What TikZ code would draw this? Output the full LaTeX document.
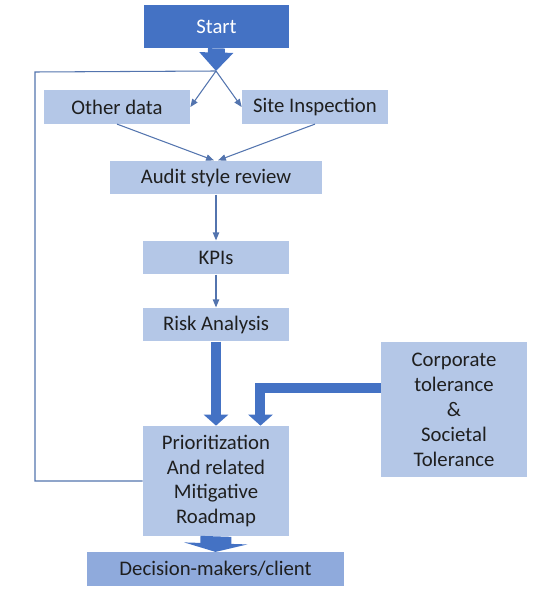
\documentclass[tikz,border=0pt]{standalone}
\usepackage{fontspec}
\setmainfont{Carlito}
\usetikzlibrary{positioning,arrows.meta,calc}
\definecolor{boxblue}{HTML}{B4C7E7}
\definecolor{startblue}{HTML}{4472C4}
\definecolor{endblue}{HTML}{8FAADC}
\definecolor{lineblue}{HTML}{5374AE}
\begin{document}
\begin{tikzpicture}[x=0.02cm,y=-0.02cm,>={Triangle[length=4.5pt,width=3.6pt]},
    box/.style={fill=boxblue,minimum width=2.92cm,minimum height=0.67cm,inner sep=0pt,
        font=\fontsize{11.8}{14.2}\selectfont,text=black!88,align=center},
    startbox/.style={box,fill=startblue,text=white,minimum height=0.86cm},
    thin/.style={->,draw=lineblue,line width=0.6pt},
    fat/.style={draw=startblue,line width=0.2cm,
        -{Triangle[width=0.48cm,length=0.22cm]}}]
    \useasboundingbox (0,0) rectangle (540,611);
    % boxes
    \node[startbox] (start) at (216.5,26.5) {Start};
    \node[box] (other) at (117,107) {Other data};
    \node[box] (site) at (315,107) {Site Inspection};
    \node[box,minimum width=4.24cm] (audit) at (216,177.5) {Audit style review};
    \node[box] (kpi) at (216,257.5) {KPIs};
    \node[box] (risk) at (216,324.5) {Risk Analysis};
    \node[box,minimum height=2.2cm] (prior) at (216,481) {Prioritization\\And related\\Mitigative\\Roadmap};
    \node[box,minimum height=2.7cm] (corp) at (454,409.5) {Corporate\\tolerance\\\&\\Societal\\Tolerance};
    \node[box,fill=endblue,minimum width=5.14cm] (dec) at (215.5,569) {Decision-makers/client};
    \coordinate (tip) at (216,71);
    \coordinate (loop) at (35,72);
    % block arrows
    \draw[fat,line width=0.34cm,-{Triangle[width=0.66cm,length=0.37cm]}] (start.south) -- (tip);
    \draw[fat] (risk.south) -- (prior.north);
    \draw[fat] ([yshift=0.43cm]corp.west) -| ([xshift=0.89cm]prior.north);
    \draw[fat,line width=0.62cm,-{Triangle[width=1.26cm,length=0.17cm]}] (prior.south) -- (dec.north);
    % thin connectors
    \draw[thin] (tip) -- (other.east);
    \draw[thin] (tip) -- (site.west);
    \draw[thin] (other.south) -- ([xshift=-0.04cm]audit.north);
    \draw[thin] (site.south) -- ([xshift=0.04cm]audit.north);
    \draw[thin] (audit.south) -- (kpi.north);
    \draw[thin] (kpi.south) -- (risk.north);
    \draw[draw=lineblue,line width=0.6pt] (tip) -- (loop) |- (prior.west);
\end{tikzpicture}
\end{document}
